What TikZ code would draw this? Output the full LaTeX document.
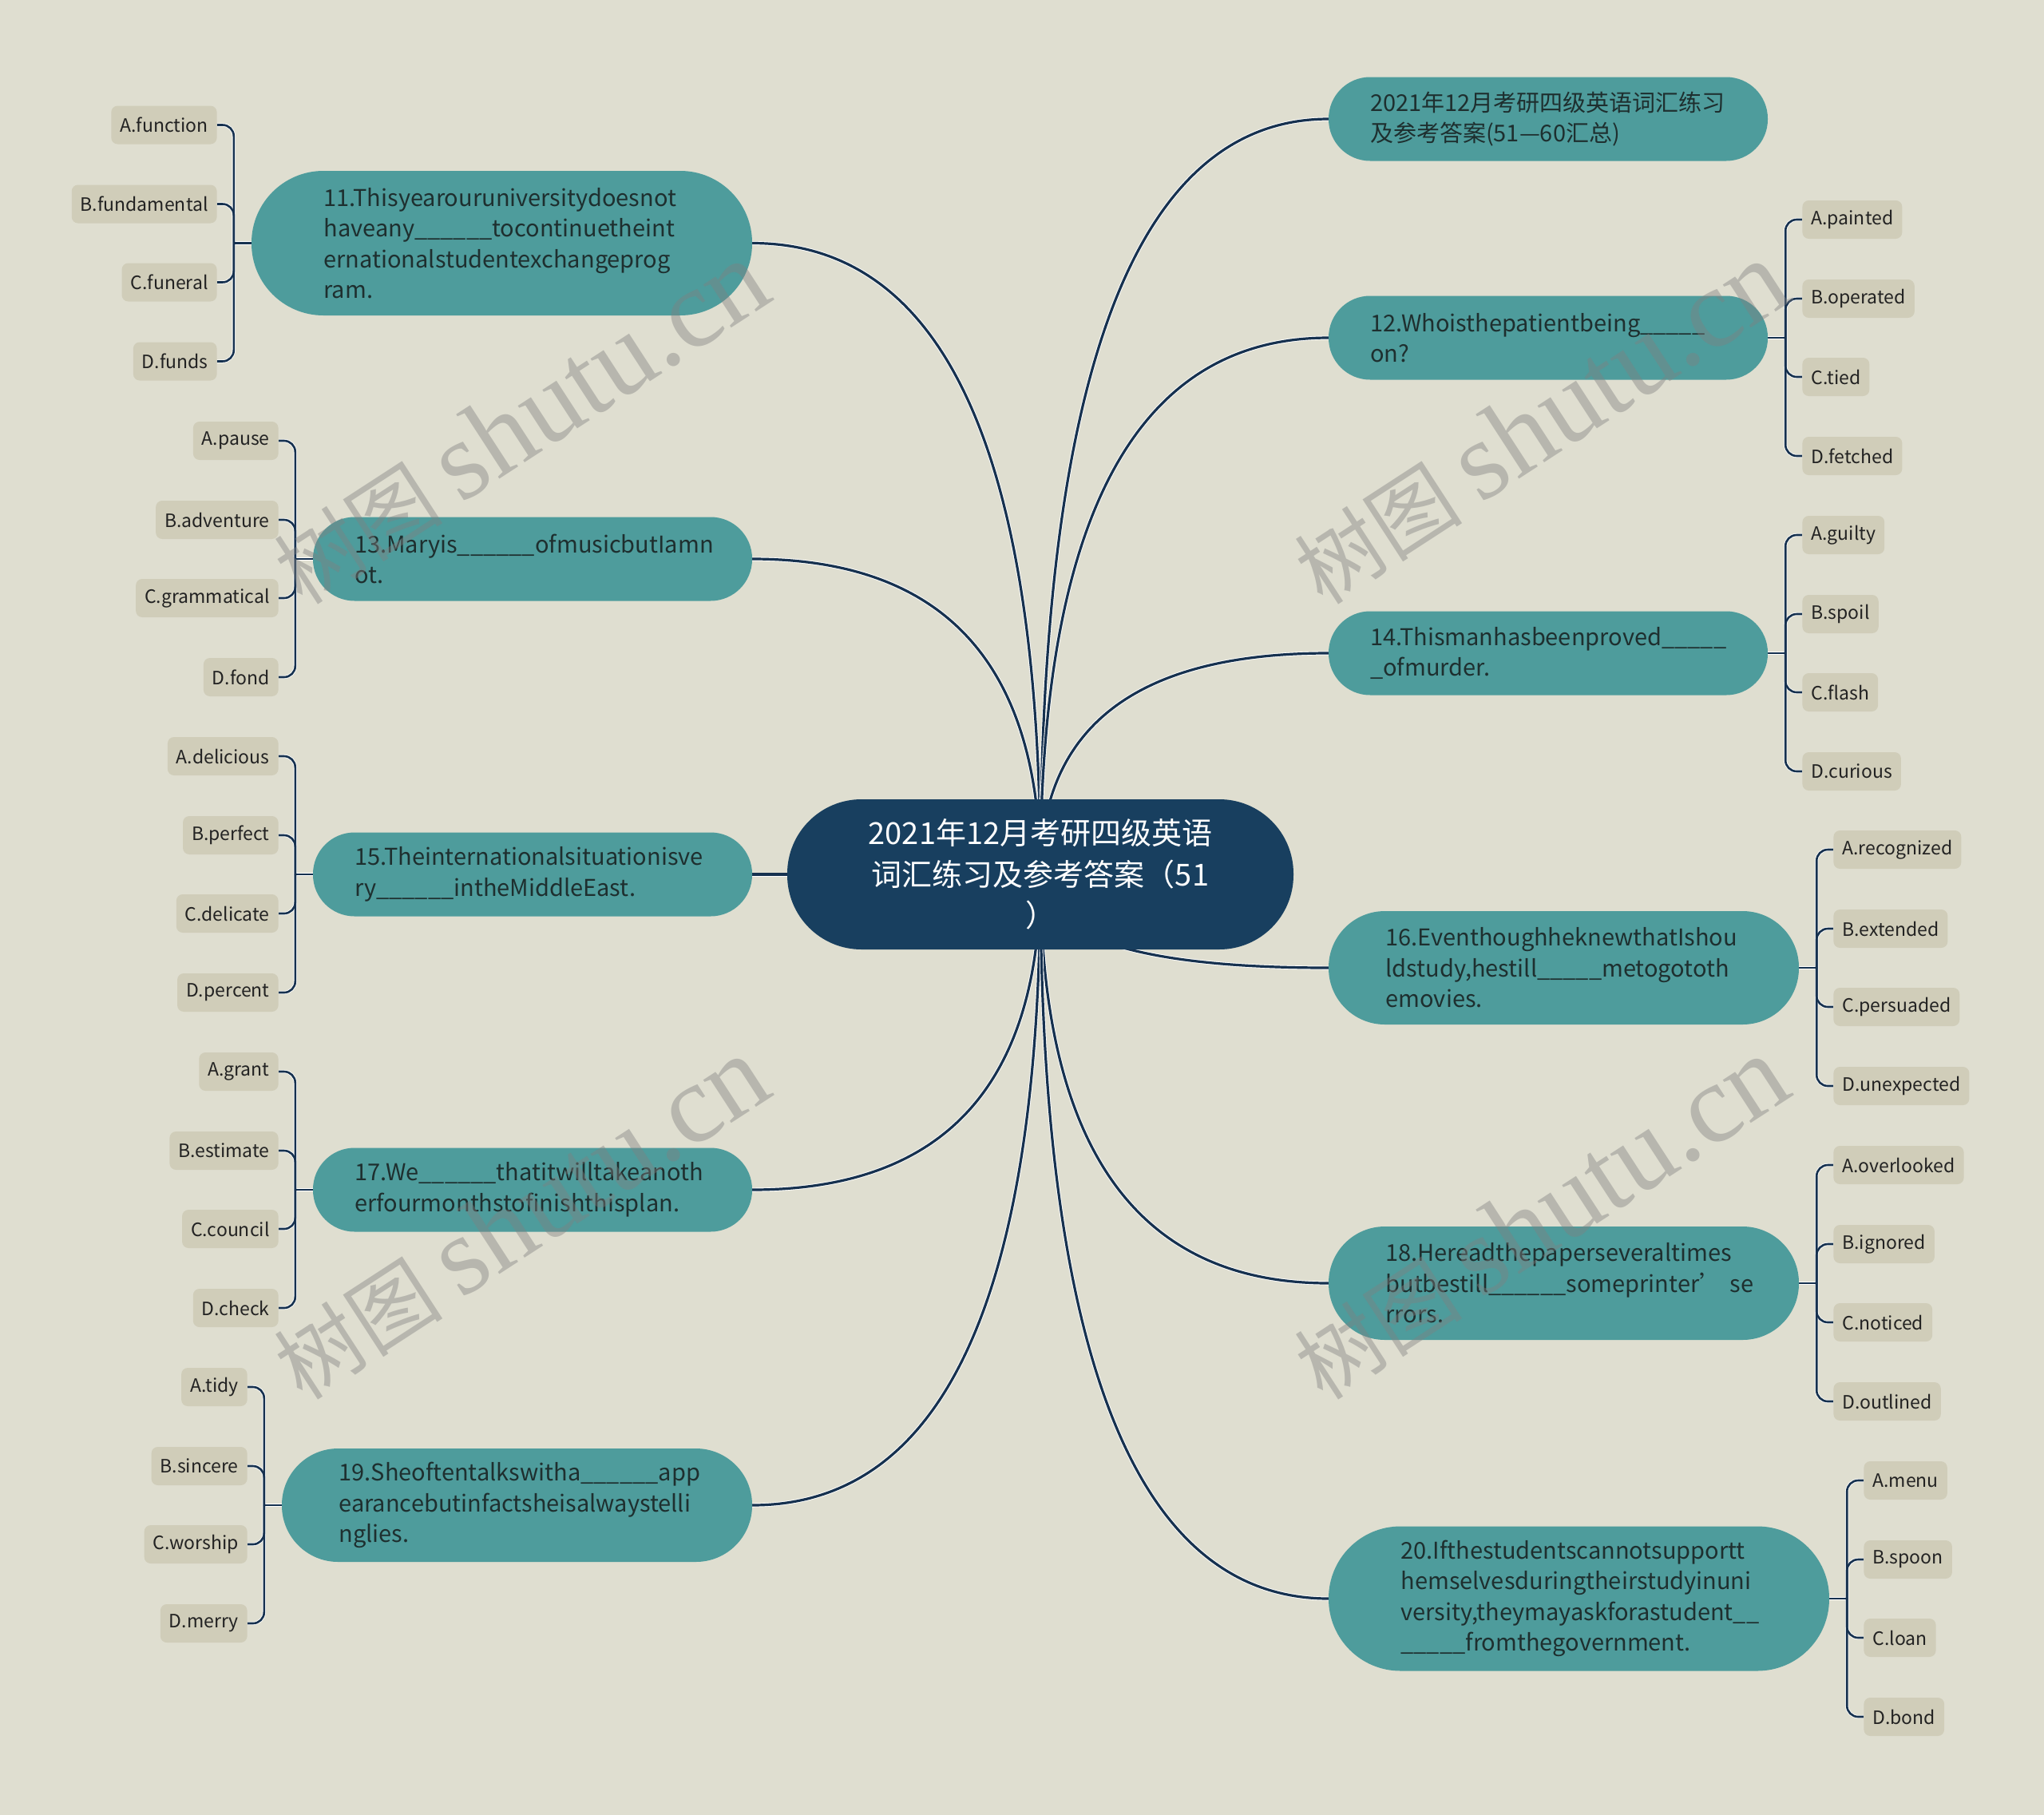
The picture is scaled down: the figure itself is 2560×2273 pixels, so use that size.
\documentclass[tikz,border=0pt]{standalone}
\usepackage{fontspec}
\setmainfont{Noto Sans CJK SC}
\newfontfamily\wmserif{Liberation Serif}
\usetikzlibrary{calc,backgrounds}
\hyphenpenalty=10000
\exhyphenpenalty=10000
\definecolor{bgc}{HTML}{DFDED0}
\definecolor{tealc}{HTML}{4E9C9C}
\definecolor{navyc}{HTML}{183F5F}
\definecolor{linec}{HTML}{16314F}
\definecolor{leafc}{HTML}{D0CDB9}
\definecolor{btext}{HTML}{1E2F2F}
\definecolor{ltext}{HTML}{222222}
\tikzset{
  rootnode/.style={fill=navyc, text=white, align=center, text width=450pt, minimum width=634pt, minimum height=188pt, rounded corners=93pt, inner sep=0pt, font=\fontsize{38}{51.5}\selectfont},
  branch/.style={fill=tealc, text=btext, align=left, inner sep=0pt, font=\fontsize{29}{38.5}\selectfont},
  btwo/.style={branch, minimum width=550pt, text width=446pt, minimum height=105pt, rounded corners=52pt},
  bthree/.style={branch, minimum width=589pt, text width=446pt, minimum height=142pt, rounded corners=70.5pt},
  bfour/.style={branch, minimum width=627pt, text width=446pt, minimum height=181pt, rounded corners=90pt},
  leaf/.style={fill=leafc, text=ltext, rounded corners=8pt, inner xsep=11pt, inner ysep=0pt, minimum height=48pt, font=\fontsize{23}{28}\selectfont},
  mainline/.style={draw=linec, line width=3.2pt},
  mainhalo/.style={draw=white, line width=5pt},
  leafline/.style={draw=linec, line width=2.6pt, rounded corners=14pt},
  leafhalo/.style={draw=white, line width=4.2pt, rounded corners=14pt},
  wm/.style={text=gray, text opacity=0.42, rotate=33, inner sep=0pt}
}
\newcommand\mmlink[2]{%
  \coordinate (k#1) at (rt.center |- #1.#2);
  \path[mainhalo] (rt.center) .. controls ($(rt.center)!0.6667!(k#1)$) and ($(#1.#2)!0.6667!(k#1)$) .. (#1.#2);
  \path[mainline] (rt.center) .. controls ($(rt.center)!0.6667!(k#1)$) and ($(#1.#2)!0.6667!(k#1)$) .. (#1.#2);
}
\newcommand\leavesL[5]{%
  \coordinate (#1j) at ($(#1.west)+(-22,0)$);
  \node[leaf,anchor=east] (#1a) at ($(#1.west)+(-43,-148)$) {#2};
  \node[leaf,anchor=east] (#1b) at ($(#1.west)+(-43,-49)$) {#3};
  \node[leaf,anchor=east] (#1c) at ($(#1.west)+(-43,49)$) {#4};
  \node[leaf,anchor=east] (#1d) at ($(#1.west)+(-43,148)$) {#5};
}
\newcommand\leavesR[5]{%
  \coordinate (#1j) at ($(#1.east)+(22,0)$);
  \node[leaf,anchor=west] (#1a) at ($(#1.east)+(43,-148)$) {#2};
  \node[leaf,anchor=west] (#1b) at ($(#1.east)+(43,-49)$) {#3};
  \node[leaf,anchor=west] (#1c) at ($(#1.east)+(43,49)$) {#4};
  \node[leaf,anchor=west] (#1d) at ($(#1.east)+(43,148)$) {#5};
}
\newcommand\linksL[1]{%
  \foreach \s in {a,b,c,d} {\path[leafhalo] (#1j) |- (#1\s.east);}
  \path[leafhalo] (#1.west) -- (#1j);
  \foreach \s in {a,b,c,d} {\path[leafline] (#1j) |- (#1\s.east);}
  \path[leafline] (#1.west) -- (#1j);
}
\newcommand\linksR[1]{%
  \foreach \s in {a,b,c,d} {\path[leafhalo] (#1j) |- (#1\s.west);}
  \path[leafhalo] (#1.east) -- (#1j);
  \foreach \s in {a,b,c,d} {\path[leafline] (#1j) |- (#1\s.west);}
  \path[leafline] (#1.east) -- (#1j);
}
\begin{document}
\begin{tikzpicture}[x=1pt,y=-1pt]
\useasboundingbox (0,0) rectangle (2560,2273);

% root
\node[rootnode] (rt) at (1303,1095) {2021年12月考研四级英语\\词汇练习及参考答案（51\\）};

% left branches
\node[bfour] (b11) at (628.5,304.5) {11.Thisyearouruniversitydoesnot\\haveany\_\_\_\_\_\_tocontinuetheint\\ernationalstudentexchangeprog\\ram.};
\node[btwo] (b13) at (667,700) {13.Maryis\_\_\_\_\_\_ofmusicbutIamn\\ot.};
\node[btwo] (b15) at (667,1095) {15.Theinternationalsituationisve\\ry\_\_\_\_\_\_intheMiddleEast.};
\node[btwo] (b17) at (667,1490) {17.We\_\_\_\_\_\_thatitwilltakeanoth\\erfourmonthstofinishthisplan.};
\node[bthree] (b19) at (647.5,1885) {19.Sheoftentalkswitha\_\_\_\_\_\_app\\earancebutinfactsheisalwaystelli\\nglies.};

% right branches
\node[btwo] (bt) at (1939,149) {2021年12月考研四级英语词汇练习\\及参考答案(51—60汇总)};
\node[btwo] (b12) at (1939,423) {12.Whoisthepatientbeing\_\_\_\_\_\\on?};
\node[btwo] (b14) at (1939,818) {14.Thismanhasbeenproved\_\_\_\_\_\\\_ofmurder.};
\node[bthree] (b16) at (1958.5,1212) {16.EventhoughheknewthatIshou\\ldstudy,hestill\_\_\_\_\_metogototh\\emovies.};
\node[bthree] (b18) at (1958.5,1607) {18.Hereadthepaperseveraltimes\\\mbox{butbestill\_\_\_\_\_\_someprinter’ se}\\rrors.};
\node[bfour] (b20) at (1977.5,2002) {20.Ifthestudentscannotsupportt\\hemselvesduringtheirstudyinuni\\versity,theymayaskforastudent\_\_\\\_\_\_\_\_fromthegovernment.};

% leaves
\leavesL{b11}{A.function}{B.fundamental}{C.funeral}{D.funds}
\leavesL{b13}{A.pause}{B.adventure}{C.grammatical}{D.fond}
\leavesL{b15}{A.delicious}{B.perfect}{C.delicate}{D.percent}
\leavesL{b17}{A.grant}{B.estimate}{C.council}{D.check}
\leavesL{b19}{A.tidy}{B.sincere}{C.worship}{D.merry}
\leavesR{b12}{A.painted}{B.operated}{C.tied}{D.fetched}
\leavesR{b14}{A.guilty}{B.spoil}{C.flash}{D.curious}
\leavesR{b16}{A.recognized}{B.extended}{C.persuaded}{D.unexpected}
\leavesR{b18}{A.overlooked}{B.ignored}{C.noticed}{D.outlined}
\leavesR{b20}{A.menu}{B.spoon}{C.loan}{D.bond}

% watermarks
\node[wm] (w1) at (652,530) {{\fontsize{106}{106}\selectfont 树图 }{\wmserif\fontsize{140}{140}\selectfont shutu.cn}};
\node[wm] (w2) at (1929,530) {{\fontsize{106}{106}\selectfont 树图 }{\wmserif\fontsize{140}{140}\selectfont shutu.cn}};
\node[wm] (w3) at (652,1526) {{\fontsize{106}{106}\selectfont 树图 }{\wmserif\fontsize{140}{140}\selectfont shutu.cn}};
\node[wm] (w4) at (1929,1526) {{\fontsize{106}{106}\selectfont 树图 }{\wmserif\fontsize{140}{140}\selectfont shutu.cn}};

\begin{scope}[on background layer]
  \fill[bgc] (0,0) rectangle (2560,2273);
  \mmlink{b11}{east}
  \mmlink{b13}{east}
  \mmlink{b15}{east}
  \mmlink{b17}{east}
  \mmlink{b19}{east}
  \mmlink{bt}{west}
  \mmlink{b12}{west}
  \mmlink{b14}{west}
  \mmlink{b16}{west}
  \mmlink{b18}{west}
  \mmlink{b20}{west}
  \linksL{b11}
  \linksL{b13}
  \linksL{b15}
  \linksL{b17}
  \linksL{b19}
  \linksR{b12}
  \linksR{b14}
  \linksR{b16}
  \linksR{b18}
  \linksR{b20}
\end{scope}
\end{tikzpicture}
\end{document}
